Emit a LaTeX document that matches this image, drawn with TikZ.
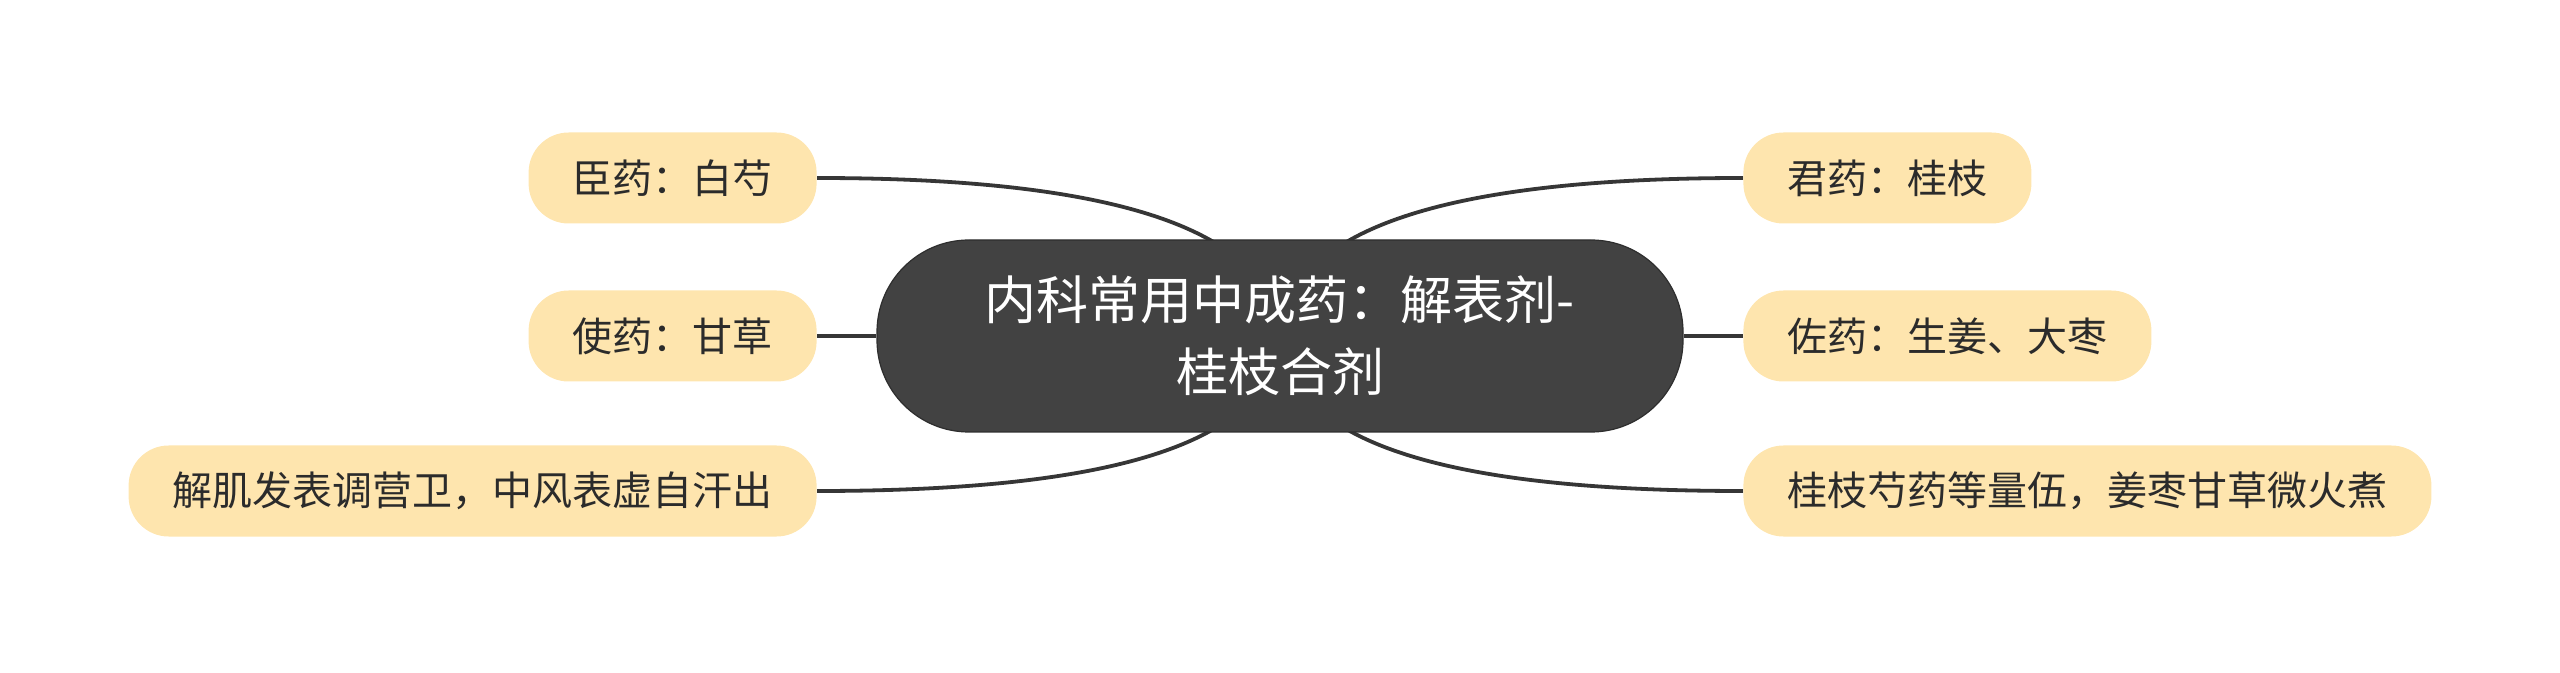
\documentclass[tikz,border=0pt]{standalone}
\usepackage{fontspec}
\setmainfont{Noto Sans CJK SC}
\usetikzlibrary{backgrounds}
\definecolor{rootfill}{HTML}{424242}
\definecolor{rootline}{HTML}{2E2E2E}
\definecolor{leaffill}{HTML}{FEE5AE}
\definecolor{leaftext}{HTML}{2B2B2B}
\definecolor{connline}{HTML}{363636}
\tikzset{
  rootbox/.style={draw=rootline, line width=0.6pt, fill=rootfill, text=white,
    rounded corners=46pt, minimum width=403pt, minimum height=96pt, align=center,
    font=\fontsize{26pt}{36pt}\selectfont, inner sep=0pt},
  leafbox/.style={fill=leaffill, text=leaftext, rounded corners=20pt,
    minimum height=45.5pt, inner xsep=22pt, inner ysep=0pt,
    font=\fontsize{20pt}{24pt}\selectfont},
  conn/.style={draw=connline, line width=1.9pt}
}
\begin{document}
\begin{tikzpicture}[x=0.5pt,y=-0.5pt]
\useasboundingbox (0,0) rectangle (2560,673);
\node[rootbox] (root) at (1280,336) {内科常用中成药：解表剂-\\桂枝合剂};
\node[leafbox, anchor=east] (l1) at (817,178) {臣药：白芍};
\node[leafbox, anchor=east] (l2) at (817,336) {使药：甘草};
\node[leafbox, anchor=east] (l3) at (817,491) {解肌发表调营卫，中风表虚自汗出};
\node[leafbox, anchor=west] (r1) at (1743,178) {君药：桂枝};
\node[leafbox, anchor=west] (r2) at (1743,336) {佐药：生姜、大枣};
\node[leafbox, anchor=west] (r3) at (1743,491) {桂枝芍药等量伍，姜枣甘草微火煮};
\begin{scope}[on background layer]
\draw[conn] (l1.east) .. controls +(300,0) and +(-8,-106) .. (root.center);
\draw[conn] (r1.west) .. controls +(-300,0) and +(8,-106) .. (root.center);
\draw[conn] (l3.east) .. controls +(300,0) and +(-8,106) .. (root.center);
\draw[conn] (r3.west) .. controls +(-300,0) and +(8,106) .. (root.center);
\draw[conn] (l2.east) -- (root.west);
\draw[conn] (r2.west) -- (root.east);
\end{scope}
\end{tikzpicture}
\end{document}
